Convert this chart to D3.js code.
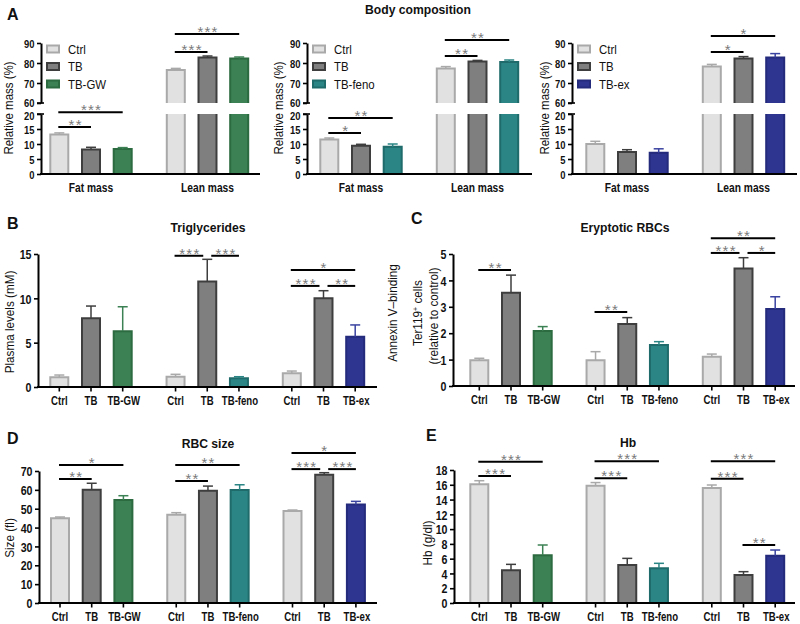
<!DOCTYPE html>
<html><head><meta charset="utf-8">
<script src="https://cdn.jsdelivr.net/npm/d3@7"></script>
<style>body{margin:0;background:#fff}svg{display:block}</style>
</head><body>
<svg id="c" width="800" height="624"></svg>
<script>
// ---------------- DATA ----------------
const bodyGroups = ["Fat mass", "Lean mass"];
const bodySeriesGW = ["Ctrl", "TB", "TB-GW"];
const bodySeriesFeno = ["Ctrl", "TB", "TB-feno"];
const bodySeriesEx = ["Ctrl", "TB", "TB-ex"];
// [group][series]
const bodyGWMean = [[13.2, 8.2, 8.3], [76.5, 82.8, 82.3]];
const bodyGWSem = [[0.5, 0.7, 0.5], [0.8, 0.7, 0.7]];
const bodyFenoMean = [[11.5, 9.4, 9.1], [77.3, 80.7, 80.5]];
const bodyFenoSem = [[0.5, 0.5, 0.9], [0.9, 0.6, 1.0]];
const bodyExMean = [[10.0, 7.3, 7.1], [78.2, 82.2, 82.8]];
const bodyExSem = [[0.9, 0.8, 1.3], [1.1, 1.0, 1.9]];
const bodyGWSig = [{g:0,a:0,b:1,y:15.7,t:"**"},{g:0,a:0,b:2,y:20.6,t:"***"},{g:1,a:0,b:1,y:85.5,t:"***"},{g:1,a:0,b:2,y:94.5,t:"***"}];
const bodyFenoSig = [{g:0,a:0,b:1,y:13.7,t:"*"},{g:0,a:0,b:2,y:18.7,t:"**"},{g:1,a:0,b:1,y:83.5,t:"**"},{g:1,a:0,b:2,y:91.5,t:"**"}];
const bodyExSig = [{g:1,a:0,b:1,y:85.5,t:"*"},{g:1,a:0,b:2,y:93.5,t:"*"}];
const bodyLowTicks = [0, 5, 10, 15, 20];
const bodyHighTicks = [60, 70, 80, 90];

const treatGroups = ["GW", "feno", "ex"];
const treatLabels = [["Ctrl", "TB", "TB-GW"], ["Ctrl", "TB", "TB-feno"], ["Ctrl", "TB", "TB-ex"]];

const tgMean = [[1.1, 7.75, 6.3], [1.16, 11.9, 0.98], [1.54, 10.0, 5.67]];
const tgSem = [[0.25, 1.38, 2.75], [0.27, 2.5, 0.18], [0.26, 0.86, 1.33]];
const tgSig = [{g:1,a:0,b:1,y:14.8,t:"***"},{g:1,a:1,b:2,y:14.8,t:"***"},{g:2,a:0,b:1,y:11.4,t:"***"},{g:2,a:1,b:2,y:11.4,t:"**"},{g:2,a:0,b:2,y:13.2,t:"*"}];
const tgTicks = [0, 5, 10, 15];

const eryMean = [[0.98, 3.53, 2.08], [0.98, 2.35, 1.55], [1.11, 4.45, 2.92]];
const erySem = [[0.07, 0.67, 0.17], [0.32, 0.24, 0.13], [0.1, 0.41, 0.46]];
const erySig = [{g:0,a:0,b:1,y:4.39,t:"**"},{g:1,a:0,b:1,y:2.8,t:"**"},{g:2,a:0,b:1,y:5.04,t:"***"},{g:2,a:1,b:2,y:5.04,t:"*"},{g:2,a:0,b:2,y:5.6,t:"**"}];
const eryTicks = [0, 1, 2, 3, 4, 5];

const rbcMean = [[44.9, 60.1, 54.6], [46.8, 59.5, 59.9], [48.8, 68.0, 52.3]];
const rbcSem = [[0.7, 3.4, 2.3], [1.1, 2.5, 2.8], [0.5, 1.1, 1.6]];
const rbcSig = [{g:0,a:0,b:1,y:65.7,t:"**"},{g:0,a:0,b:2,y:73.2,t:"*"},{g:1,a:0,b:1,y:64.7,t:"**"},{g:1,a:0,b:2,y:73.2,t:"**"},{g:2,a:0,b:1,y:71,t:"***"},{g:2,a:1,b:2,y:71,t:"***"},{g:2,a:0,b:2,y:79.5,t:"*"}];
const rbcTicks = [0, 10, 20, 30, 40, 50, 60, 70];

const hbMean = [[16.06, 4.42, 6.45], [15.88, 5.14, 4.69], [15.56, 3.79, 6.4]];
const hbSem = [[0.49, 0.81, 1.4], [0.42, 0.9, 0.68], [0.41, 0.45, 0.77]];
const hbSig = [{g:0,a:0,b:1,y:17.2,t:"***"},{g:0,a:0,b:2,y:19.1,t:"***"},{g:1,a:0,b:1,y:16.9,t:"***"},{g:1,a:0,b:2,y:19.2,t:"***"},{g:2,a:0,b:1,y:16.8,t:"***"},{g:2,a:0,b:2,y:19.2,t:"***"},{g:2,a:1,b:2,y:7.85,t:"**"}];
const hbTicks = [0, 2, 4, 6, 8, 10, 12, 14, 16, 18];

// ---------------- STYLE ----------------
const palette = {
  "Ctrl": {fill: "#e1e1e1", stroke: "#a9a9a9", err: "#a9a9a9"},
  "TB": {fill: "#7f7f7f", stroke: "#3e3e3e", err: "#3e3e3e"},
  "TB-GW": {fill: "#3b8153", stroke: "#2c6a40", err: "#3b8153"},
  "TB-feno": {fill: "#2b8585", stroke: "#1f6a6a", err: "#2b8585"},
  "TB-ex": {fill: "#2e3591", stroke: "#242b7c", err: "#3a43a0"}
};
const SANS = "'Liberation Sans', Arial, sans-serif";
const svg = d3.select("#c");

function txt(x, y, s, o = {}) {
  const sx = o.sx || 1;
  const t = svg.append("text").attr("x", 0).attr("y", 0).text(s)
    .attr("font-family", SANS).attr("font-size", o.size || 12)
    .attr("font-weight", o.weight || "normal").attr("fill", o.fill || "#111")
    .attr("text-anchor", o.anchor || "middle")
    .attr("transform", `translate(${x},${y})${o.rotate ? " rotate(-90)" : ""} scale(${sx},1)`);
  if (o.ls) t.attr("letter-spacing", o.ls);
  return t;
}

function yAxis(scale, ticks, x, fs = 13, shift = {}) {
  const g = svg.append("g").attr("transform", `translate(${x},0)`)
    .call(d3.axisLeft(scale).tickValues(ticks).tickSize(4).tickSizeOuter(0).tickFormat(d3.format("d")));
  g.select(".domain").attr("stroke", "#000").attr("stroke-width", 2);
  g.selectAll(".tick line").attr("stroke", "#000").attr("stroke-width", 1.6);
  g.selectAll(".tick text").attr("font-family", SANS).attr("font-weight", "bold")
    .attr("font-size", fs).attr("fill", "#111").attr("x", -6.5 / 0.82).attr("dy", "0.36em")
    .attr("y", d => shift[d] || 0)
    .attr("transform", "scale(0.82,1)");
  return g;
}

function drawBar(cx, yTop, yBase, key, openTop, openBottom) {
  const c = palette[key];
  const x0 = cx - 9, x1 = cx + 9;
  svg.append("rect").attr("x", x0).attr("y", yTop).attr("width", 18).attr("height", Math.max(0, yBase - yTop))
    .attr("fill", c.fill);
  const p = d3.path();
  if (openTop && openBottom) { p.moveTo(x0, yTop); p.lineTo(x0, yBase); p.moveTo(x1, yTop); p.lineTo(x1, yBase); }
  else if (openTop) { p.moveTo(x0, yTop); p.lineTo(x0, yBase); p.lineTo(x1, yBase); p.lineTo(x1, yTop); }
  else if (openBottom) { p.moveTo(x0, yBase); p.lineTo(x0, yTop); p.lineTo(x1, yTop); p.lineTo(x1, yBase); }
  else { p.rect(x0, yTop, 18, yBase - yTop); }
  svg.append("path").attr("d", p.toString()).attr("fill", "none").attr("stroke", c.stroke).attr("stroke-width", 2);
}

function drawErr(cx, yTop, yEnd, key) {
  const c = palette[key];
  svg.append("line").attr("x1", cx).attr("x2", cx).attr("y1", yTop).attr("y2", yEnd).attr("stroke", c.err).attr("stroke-width", 1.5);
  svg.append("line").attr("x1", cx - 5).attr("x2", cx + 5).attr("y1", yEnd).attr("y2", yEnd).attr("stroke", c.err).attr("stroke-width", 1.5);
}

function drawSigs(sigs, center, yf) {
  sigs.forEach(s => {
    let x1 = center(s.g, s.a) - 1, x2 = center(s.g, s.b);
    const partnerLeft = sigs.find(o => o !== s && o.g === s.g && o.y === s.y && o.b === s.a);
    const partnerRight = sigs.find(o => o !== s && o.g === s.g && o.y === s.y && o.a === s.b);
    if (partnerRight) x2 -= 4;
    if (partnerLeft) x1 += 5;
    const y = yf(s.y);
    svg.append("line").attr("x1", x1).attr("x2", x2).attr("y1", y).attr("y2", y).attr("stroke", "#000").attr("stroke-width", 2);
    txt((x1 + x2) / 2 + 1, y + 3, s.t, {size: 15, fill: "#7a7a7a", ls: 1.2});
  });
}

// ---------------- PANEL A (broken axis) ----------------
function bodyPanel(o) {
  const low = d3.scaleLinear().domain([0, 20]).range([174, 114]);
  const high = d3.scaleLinear().domain([60, 90]).range([103, 43]);
  const yf = v => v <= 40 ? low(v) : high(v);
  const gx = d3.scalePoint().domain(bodyGroups).range([o.c0, o.c0 + 116.5]);
  const bx = d3.scalePoint().domain(d3.range(3)).range([-31.7, 31.7]);
  const center = (g, i) => gx(bodyGroups[g]) + bx(i);
  yAxis(low, bodyLowTicks, o.axisX, 11.5, {20: 1});
  yAxis(high, bodyHighTicks, o.axisX, 11.5, {60: -1});
  [high(60), low(20)].forEach(y => svg.append("line").attr("x1", o.axisX - 4).attr("x2", o.axisX + 3).attr("y1", y).attr("y2", y).attr("stroke", "#000").attr("stroke-width", 1.6));
  bodyGroups.forEach((gname, g) => {
    o.series.forEach((s, i) => {
      const v = o.mean[g][i], e = o.sem[g][i], cx = center(g, i);
      if (v <= 20) {
        drawBar(cx, low(v), low(0), s, false, false);
        drawErr(cx, low(v), low(v + e), s);
      } else {
        drawBar(cx, low(20), low(0), s, true, false);
        drawBar(cx, high(v), high(60), s, false, true);
        drawErr(cx, high(v), high(v + e), s);
      }
    });
    txt(gx(gname), 192, gname, {weight: "bold", size: 12.5, sx: 0.82});
  });
  svg.append("line").attr("x1", o.axisX - 1).attr("x2", o.axisEnd).attr("y1", low(0)).attr("y2", low(0)).attr("stroke", "#000").attr("stroke-width", 2);
  drawSigs(o.sigs, center, yf);
  const ly = d3.scalePoint().domain(o.series).range([49, 84]);
  o.series.forEach(s => {
    const c = palette[s];
    svg.append("rect").attr("x", o.axisX + 6).attr("y", ly(s) - 3.5).attr("width", 12).attr("height", 7)
      .attr("fill", c.fill).attr("stroke", c.stroke).attr("stroke-width", 2);
    txt(o.axisX + 27, ly(s) + 4.5, s, {anchor: "start", size: 13, sx: 0.88});
  });
  txt(o.labelX, 108, "Relative mass (%)", {rotate: true, size: 12.5, sx: 0.92});
}

bodyPanel({axisX: 41, axisEnd: 260, c0: 91, series: bodySeriesGW, mean: bodyGWMean, sem: bodyGWSem, sigs: bodyGWSig, labelX: 12.5});
bodyPanel({axisX: 307, axisEnd: 532, c0: 361, series: bodySeriesFeno, mean: bodyFenoMean, sem: bodyFenoSem, sigs: bodyFenoSig, labelX: 283});
bodyPanel({axisX: 572, axisEnd: 797, c0: 627, series: bodySeriesEx, mean: bodyExMean, sem: bodyExSem, sigs: bodyExSig, labelX: 549});
txt(418, 14, "Body composition", {weight: "bold", size: 13.5, sx: 0.9});
txt(7, 20, "A", {weight: "bold", size: 16, anchor: "start"});

// ---------------- PANELS B-E ----------------
function groupedPanel(o) {
  const y = d3.scaleLinear().domain([0, o.ticks[o.ticks.length - 1]]).range([o.y0, o.yTop]);
  const gx = d3.scalePoint().domain(treatGroups).range([o.c0, o.c0 + 232.5]);
  const bx = d3.scalePoint().domain(d3.range(3)).range([-31.7, 31.7]);
  const center = (g, i) => gx(treatGroups[g]) + bx(i);
  yAxis(y, o.ticks, o.axisX);
  treatGroups.forEach((gname, g) => {
    treatLabels[g].forEach((s, i) => {
      const v = o.mean[g][i], e = o.sem[g][i], cx = center(g, i);
      drawBar(cx, y(v), y(0), s, false, false);
      drawErr(cx, y(v), y(v + e), s);
      svg.append("line").attr("x1", cx).attr("x2", cx).attr("y1", y(0)).attr("y2", y(0) + 4.5).attr("stroke", "#000").attr("stroke-width", 1.6);
      txt(cx + (i === 2 ? 1 : 0), y(0) + 17.5, s, {weight: "bold", size: 12, sx: 0.8});
    });
  });
  svg.append("line").attr("x1", o.axisX - 1).attr("x2", o.axisEnd).attr("y1", y(0)).attr("y2", y(0)).attr("stroke", "#000").attr("stroke-width", 2);
  drawSigs(o.sigs, center, y);
  txt(o.titleX, o.titleY, o.title, {weight: "bold", size: 13.5, sx: 0.9});
  txt(o.letterX, o.letterY, o.letter, {weight: "bold", size: 16, anchor: "start"});
  o.ylabel.forEach(l => {
    const t = txt(l.x, l.y, l.t, {rotate: true, size: 13, sx: 0.9});
    if (l.sup) {
      t.text(null);
      t.append("tspan").text(l.t);
      t.append("tspan").text(l.sup).attr("baseline-shift", "super").attr("font-size", 8);
      t.append("tspan").text(l.rest);
    }
  });
}

groupedPanel({axisX: 38, axisEnd: 377, c0: 91, y0: 387, yTop: 254, ticks: tgTicks, mean: tgMean, sem: tgSem, sigs: tgSig,
  title: "Triglycerides", titleX: 208, titleY: 232, letter: "B", letterX: 7, letterY: 229,
  ylabel: [{x: 14, y: 322, t: "Plasma levels (mM)"}]});
groupedPanel({axisX: 453, axisEnd: 795, c0: 511, y0: 386, yTop: 254, ticks: eryTicks, mean: eryMean, sem: erySem, sigs: erySig,
  title: "Eryptotic RBCs", titleX: 625, titleY: 232, letter: "C", letterX: 411, letterY: 224,
  ylabel: [{x: 397, y: 313, t: "Annexin V\u2013binding"}, {x: 422, y: 313, t: "Ter119", sup: "+", rest: " cells"}, {x: 438, y: 316, t: "(relative to control)"}]});
groupedPanel({axisX: 39, axisEnd: 377, c0: 91.7, y0: 603, yTop: 471, ticks: rbcTicks, mean: rbcMean, sem: rbcSem, sigs: rbcSig,
  title: "RBC size", titleX: 208, titleY: 448, letter: "D", letterX: 7, letterY: 444,
  ylabel: [{x: 14, y: 538, t: "Size (fl)"}]});
groupedPanel({axisX: 454, axisEnd: 795, c0: 511, y0: 603, yTop: 470, ticks: hbTicks, mean: hbMean, sem: hbSem, sigs: hbSig,
  title: "Hb", titleX: 628, titleY: 447, letter: "E", letterX: 426, letterY: 441,
  ylabel: [{x: 432, y: 543, t: "Hb (g/dl)"}]});
</script>
</body></html>
